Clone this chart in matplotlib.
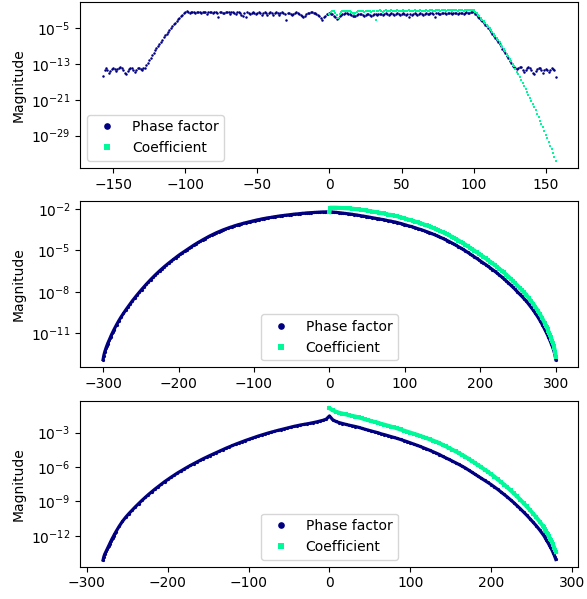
import numpy as np
import matplotlib
matplotlib.use("Agg")
import matplotlib.pyplot as plt
from matplotlib.lines import Line2D
from matplotlib.ticker import FixedLocator, NullLocator

# all magnitudes are stored as log10 values

# ---- top panel ----
top_x_phase = np.arange(-157, 158)
top_phase = [
    # -157 .. -129 noise floor
    -15.7, -14.2, -13.9, -14.3, -14.9, -14.6, -14.0, -13.8, -14.0, -14.5,
    -14.1, -13.8, -13.7, -13.9, -14.4, -15.0, -15.2, -14.6, -14.1, -13.8,
    -13.8, -14.2, -14.8, -14.3, -13.9, -13.8, -14.0, -14.3, -13.9,
    # -128 .. -100 ramp
    -13.78, -13.2, -12.63, -12.08, -11.53, -10.99, -10.45, -9.93, -9.42, -8.92,
    -8.43, -7.95, -7.48, -7.02, -6.57, -6.13, -5.70, -5.28, -4.87, -4.46,
    -4.07, -3.69, -3.32, -2.96, -2.61, -2.27, -1.93, -1.61, -1.3,
    # -99 .. 99 plateau
    -1.2, -1.3, -1.5, -1.4, -1.3, -1.4, -1.6, -1.4, -1.3, -1.4,
    -1.6, -1.4, -1.3, -1.4, -1.7, -1.4, -1.3, -1.4, -1.6, -1.4,
    -1.3, -1.5, -2.4, -1.4, -1.3, -1.5, -1.6, -1.4, -1.3, -1.4,
    -1.7, -1.4, -1.3, -1.5, -1.7, -1.4, -1.3, -1.5, -1.9, -2.2,
    -1.5, -2.5, -1.4, -1.5, -1.8, -1.5, -1.4, -1.5, -1.8, -1.5,
    -1.4, -1.5, -1.9, -1.5, -1.4, -1.6, -1.9, -1.5, -1.4, -1.6,
    -2.0, -1.5, -1.4, -1.6, -2.0, -1.6, -1.4, -1.5, -1.8, -3.0,
    -1.5, -1.5, -1.8, -2.0, -1.7, -1.5, -1.4, -1.5, -1.7, -2.0,
    -2.3, -2.4, -2.1, -1.8, -1.6, -1.5, -1.4, -1.4, -1.5, -1.6,
    -1.8, -2.0, -2.3, -2.7, -3.0, -2.5, -2.1, -1.8, -1.7, -1.6,
    -1.7, -1.8, -2.1, -2.5, -2.8, -2.6, -2.2, -1.9, -1.8, -1.7,
    -1.6, -1.6, -1.7, -1.8, -2.0, -2.2, -2.3, -2.2, -2.0, -1.8,
    -1.7, -1.7, -1.9, -2.1, -1.9, -1.7, -1.7, -1.9, -2.1, -1.9,
    -1.7, -1.8, -2.0, -1.8, -1.7, -1.8, -2.0, -1.8, -1.6, -1.7,
    -1.9, -1.7, -1.6, -1.7, -1.9, -1.7, -1.6, -1.7, -1.9, -1.7,
    -1.6, -1.7, -1.9, -1.7, -2.5, -1.7, -1.9, -1.7, -1.6, -1.7,
    -1.9, -1.7, -1.6, -1.7, -1.9, -1.7, -1.6, -1.7, -1.8, -1.6,
    -1.6, -1.7, -2.4, -1.6, -1.5, -1.7, -1.8, -1.6, -1.5, -1.6,
    -1.8, -1.6, -1.5, -1.6, -1.8, -1.6, -1.5, -1.6, -1.8, -1.6,
    -1.5, -1.6, -1.7, -1.5, -1.4, -1.5, -1.6, -1.4, -1.3,
    # 100 .. 128 ramp
    -1.3, -1.71, -2.03, -2.37, -2.71, -3.06, -3.42, -3.79, -4.17, -4.56,
    -4.97, -5.38, -5.80, -6.23, -6.67, -7.12, -7.58, -8.05, -8.53, -9.02,
    -9.52, -10.03, -10.55, -11.09, -11.63, -12.18, -12.73, -13.3, -13.6,
    # 129 .. 157 noise floor
    -13.8, -14.1, -13.9, -13.6, -13.7, -14.2, -14.8, -14.3, -13.9, -13.7,
    -13.8, -14.3, -15.0, -15.1, -14.5, -14.0, -13.8, -13.9, -14.3, -14.9,
    -14.4, -14.0, -14.3, -14.8, -14.2, -13.9, -14.1, -14.4, -15.8,
]
top_x_coef = np.arange(0, 158)
top_coef = [
    -1.8, -1.4, -1.2, -1.2, -1.5, -2.0, -2.6, -1.8, -1.3, -1.1,
    -1.0, -1.0, -1.0, -1.1, -1.2, -1.3, -1.5, -1.7, -1.6, -1.3,
    -1.1, -1.0, -1.0, -1.2, -1.4, -1.2, -1.0, -1.0, -1.2, -1.3,
    -1.1, -1.0, -3.0, -1.2, -1.0, -0.9, -1.1, -1.3, -1.0, -0.9,
    -1.0, -1.2, -1.0, -0.9, -1.0, -1.2, -1.0, -0.9, -1.0, -1.2,
    -1.0, -0.9, -1.0, -1.2, -1.0, -0.9, -1.0, -1.2, -1.0, -0.9,
    -1.0, -1.2, -1.0, -0.9, -1.0, -1.2, -1.0, -0.9, -1.0, -1.2,
    -0.9, -0.9, -1.0, -1.2, -0.9, -0.8, -0.9, -1.1, -0.9, -0.8,
    -0.9, -1.1, -0.9, -0.8, -0.9, -1.1, -0.9, -0.8, -0.9, -1.0,
    -0.8, -0.8, -0.9, -1.0, -0.8, -0.8, -0.9, -0.9, -0.8, -0.8,
    # 100 .. 157 fall-off
    -0.9, -1.31, -1.63, -1.97, -2.31, -2.66, -3.02, -3.39, -3.77, -4.16,
    -4.57, -4.98, -5.40, -5.83, -6.27, -6.72, -7.18, -7.65, -8.13, -8.62,
    -9.12, -9.63, -10.15, -10.69, -11.23, -11.78, -12.33, -12.90, -13.48, -14.07,
    -14.67, -15.28, -15.90, -16.53, -17.17, -17.82, -18.48, -19.15, -19.83, -20.52,
    -21.22, -21.92, -22.64, -23.37, -24.11, -24.86, -25.62, -26.39, -27.17, -27.96,
    -28.75, -29.56, -30.38, -31.21, -32.04, -32.89, -33.75, -34.62,
]

# ---- middle panel ----
mid_x_phase = np.r_[np.arange(-300, -285), np.arange(-285, 286, 3), np.arange(286, 301)]
mid_phase = [
    # -300 .. -286
    -12.90, -12.60, -12.38, -12.20, -12.04, -11.89, -11.75, -11.62, -11.49, -11.36,
    -11.24, -11.12, -11.00, -10.89, -10.78,
    # -285 .. -3 step 3
    -10.67, -10.36, -10.07, -9.80, -9.55, -9.31, -9.08, -8.85, -8.63, -8.42,
    -8.22, -8.02, -7.83, -7.64, -7.46, -7.28, -7.11, -6.94, -6.78, -6.62,
    -6.47, -6.32, -6.18, -6.04, -5.91, -5.78, -5.65, -5.52, -5.40, -5.28,
    -5.17, -5.06, -4.95, -4.84, -4.73, -4.62, -4.52, -4.42, -4.33, -4.23,
    -4.14, -4.05, -3.96, -3.88, -3.80, -3.72, -3.65, -3.58, -3.51, -3.45,
    -3.39, -3.33, -3.28, -3.22, -3.17, -3.12, -3.08, -3.03, -2.99, -2.95,
    -2.91, -2.87, -2.83, -2.79, -2.76, -2.72, -2.69, -2.66, -2.63, -2.61,
    -2.58, -2.55, -2.53, -2.50, -2.48, -2.46, -2.44, -2.42, -2.40, -2.38,
    -2.36, -2.35, -2.33, -2.31, -2.30, -2.28, -2.27, -2.26, -2.25, -2.24,
    -2.23, -2.22, -2.21, -2.21, -2.20,
    # 0
    -2.20,
    # 3 .. 285 step 3
    -2.21, -2.23, -2.24, -2.26, -2.28, -2.30, -2.32, -2.34, -2.36, -2.38,
    -2.41, -2.43, -2.46, -2.49, -2.51, -2.54, -2.57, -2.60, -2.63, -2.66,
    -2.69, -2.71, -2.75, -2.77, -2.81, -2.85, -2.87, -2.91, -2.94, -2.98,
    -3.03, -3.07, -3.12, -3.17, -3.22, -3.26, -3.31, -3.36, -3.42, -3.47,
    -3.52, -3.58, -3.64, -3.70, -3.77, -3.83, -3.90, -3.97, -4.05, -4.12,
    -4.20, -4.28, -4.36, -4.45, -4.54, -4.63, -4.73, -4.82, -4.92, -5.02,
    -5.13, -5.24, -5.35, -5.46, -5.57, -5.68, -5.80, -5.91, -6.02, -6.14,
    -6.26, -6.38, -6.50, -6.63, -6.77, -6.90, -7.04, -7.19, -7.34, -7.49,
    -7.65, -7.81, -7.99, -8.15, -8.32, -8.49, -8.67, -8.88, -9.10, -9.31,
    -9.55, -9.80, -10.07, -10.36, -10.67,
    # 286 .. 300
    -10.78, -10.89, -11.00, -11.12, -11.24, -11.36, -11.49, -11.62, -11.75, -11.89,
    -12.04, -12.20, -12.38, -12.60, -12.90,
]
mid_x_coef = np.r_[0, 1, 2, np.arange(3, 286, 3), np.arange(286, 301)]
mid_coef = [
    -2.22, -1.90, -1.90,
    -1.90, -1.90, -1.90, -1.91, -1.92, -1.93, -1.94, -1.95, -1.96, -1.97,
    -1.99, -2.01, -2.03, -2.05, -2.07, -2.10, -2.12, -2.15, -2.18, -2.21,
    -2.24, -2.26, -2.30, -2.32, -2.36, -2.40, -2.42, -2.46, -2.49, -2.53,
    -2.58, -2.62, -2.67, -2.72, -2.77, -2.81, -2.86, -2.91, -2.97, -3.02,
    -3.07, -3.13, -3.19, -3.25, -3.32, -3.38, -3.45, -3.52, -3.60, -3.67,
    -3.75, -3.83, -3.91, -4.00, -4.09, -4.18, -4.28, -4.37, -4.47, -4.57,
    -4.68, -4.79, -4.90, -5.01, -5.12, -5.23, -5.35, -5.45, -5.57, -5.69,
    -5.81, -5.93, -6.05, -6.18, -6.32, -6.45, -6.59, -6.74, -6.89, -7.04,
    -7.20, -7.36, -7.54, -7.70, -7.87, -8.04, -8.22, -8.43, -8.65, -8.86,
    -9.10, -9.35, -9.62, -9.91, -10.22,
    -10.34, -10.45, -10.57, -10.70, -10.82, -10.95, -11.09, -11.23, -11.37, -11.53,
    -11.70, -11.88, -12.08, -12.33, -12.68,
]

# ---- bottom panel ----
bot_x_phase = np.r_[np.arange(-280, -264), np.arange(-264, 265, 4), np.arange(265, 281)]
bot_phase = [
    # -280 .. -265
    -14.1, -13.8, -13.6, -13.45, -13.3, -13.15, -13.0, -12.85, -12.7, -12.55,
    -12.4, -12.27, -12.14, -12.0, -11.87, -11.75,
    # -264 .. -4 step 4
    -11.62, -11.15, -10.73, -10.37, -10.05, -9.75, -9.46, -9.18, -8.91, -8.65,
    -8.40, -8.16, -7.93, -7.71, -7.49, -7.28, -7.08, -6.89, -6.70, -6.52,
    -6.35, -6.18, -6.02, -5.86, -5.71, -5.56, -5.41, -5.27, -5.13, -5.00,
    -4.87, -4.74, -4.61, -4.48, -4.36, -4.24, -4.12, -4.01, -3.90, -3.79,
    -3.69, -3.59, -3.49, -3.39, -3.30, -3.21, -3.12, -3.04, -2.96, -2.88,
    -2.81, -2.74, -2.67, -2.60, -2.53, -2.46, -2.40, -2.34, -2.29, -2.24,
    -2.19, -2.13, -2.07, -2.00, -1.93, -1.83,
    # 0
    -1.55,
    # 4 .. 264 step 4
    -1.88, -2.03, -2.13, -2.21, -2.28, -2.35, -2.41, -2.47, -2.54, -2.63,
    -2.71, -2.79, -2.87, -2.94, -3.01, -3.11, -3.18, -3.26, -3.34, -3.42,
    -3.51, -3.60, -3.69, -3.79, -3.89, -3.99, -4.09, -4.20, -4.31, -4.42,
    -4.54, -4.66, -4.78, -4.91, -5.07, -5.20, -5.34, -5.48, -5.62, -5.77,
    -5.92, -6.08, -6.26, -6.44, -6.62, -6.80, -6.97, -7.15, -7.34, -7.53,
    -7.73, -7.94, -8.16, -8.38, -8.61, -8.85, -9.10, -9.36, -9.63, -9.91,
    -10.20, -10.50, -10.82, -11.13, -11.48, -11.86,
    # 265 .. 280
    -11.96, -12.07, -12.19, -12.31, -12.43, -12.56, -12.68, -12.80, -12.93, -13.06,
    -13.20, -13.35, -13.50, -13.67, -13.86, -14.05,
]
bot_x_coef = np.r_[np.arange(0, 265, 4), np.arange(265, 281)]
bot_coef = [
    -0.88, -1.05, -1.18, -1.27, -1.34, -1.41, -1.48, -1.54, -1.60, -1.67,
    -1.76, -1.84, -1.92, -2.00, -2.07, -2.14, -2.24, -2.31, -2.39, -2.47,
    -2.55, -2.64, -2.73, -2.82,
    -2.91, -3.00, -3.09, -3.18, -3.28, -3.38, -3.48, -3.59, -3.69, -3.80,
    -3.91, -4.07, -4.20, -4.34, -4.49, -4.63, -4.78, -4.94, -5.10, -5.28,
    -5.47, -5.65, -5.84, -6.03, -6.22, -6.42, -6.62, -6.84, -7.06, -7.30,
    -7.53, -7.77, -8.02, -8.29, -8.56, -8.84, -9.13, -9.43, -9.74, -10.07,
    -10.39, -10.75, -11.14,
    -11.25, -11.36, -11.48, -11.60, -11.73, -11.86, -11.98, -12.11, -12.24, -12.38,
    -12.52, -12.68, -12.83, -13.01, -13.20, -13.40,
]

PHASE_C = "navy"
COEF_C = "mediumspringgreen"

# ms = marker sizes, lw = width of the joining stroke (0 -> dots only)
panels = [
    dict(xp=top_x_phase, yp=top_phase, xc=top_x_coef, yc=top_coef,
         ms=(1.8, 1.8), lw=(0, 0), yticks=[-5, -13, -21, -29], ylim=(-36.2, 0.93),
         loc="lower left"),
    dict(xp=mid_x_phase, yp=mid_phase, xc=mid_x_coef, yc=mid_coef,
         ms=(2.3, 2.9), lw=(2.3, 2.9), yticks=[-2, -5, -8, -11], ylim=(-13.45, -1.45),
         loc="lower center"),
    dict(xp=bot_x_phase, yp=bot_phase, xc=bot_x_coef, yc=bot_coef,
         ms=(2.3, 2.9), lw=(2.3, 2.9), yticks=[-3, -6, -9, -12], ylim=(-14.68, -0.24),
         loc="lower center"),
]

fig, axes = plt.subplots(3, 1, figsize=(5.87, 5.99), dpi=100)
fig.subplots_adjust(left=0.137, right=0.9855, top=0.9967, bottom=0.0539, hspace=0.203)

handles = [
    Line2D([], [], ls="none", marker="o", ms=4.8, mew=0, color=PHASE_C, label="Phase factor"),
    Line2D([], [], ls="none", marker="s", ms=4.4, mew=0, color=COEF_C, label="Coefficient"),
]

for ax, p in zip(axes, panels):
    ls_p = "-" if p["lw"][0] else "none"
    ls_c = "-" if p["lw"][1] else "none"
    ax.plot(p["xp"], 10.0 ** np.array(p["yp"]), marker="o", ls=ls_p, lw=p["lw"][0],
            color=PHASE_C, ms=p["ms"][0], mew=0)
    ax.plot(p["xc"], 10.0 ** np.array(p["yc"]), marker="s", ls=ls_c, lw=p["lw"][1],
            color=COEF_C, ms=p["ms"][1], mew=0)
    ax.set_yscale("log")
    ax.set_ylim(10.0 ** p["ylim"][0], 10.0 ** p["ylim"][1])
    ax.yaxis.set_major_locator(FixedLocator([10.0 ** t for t in p["yticks"]]))
    ax.yaxis.set_minor_locator(NullLocator())
    ax.set_ylabel("Magnitude")
    ax.legend(handles=handles, loc=p["loc"])

fig.savefig("out.png", dpi=100)
